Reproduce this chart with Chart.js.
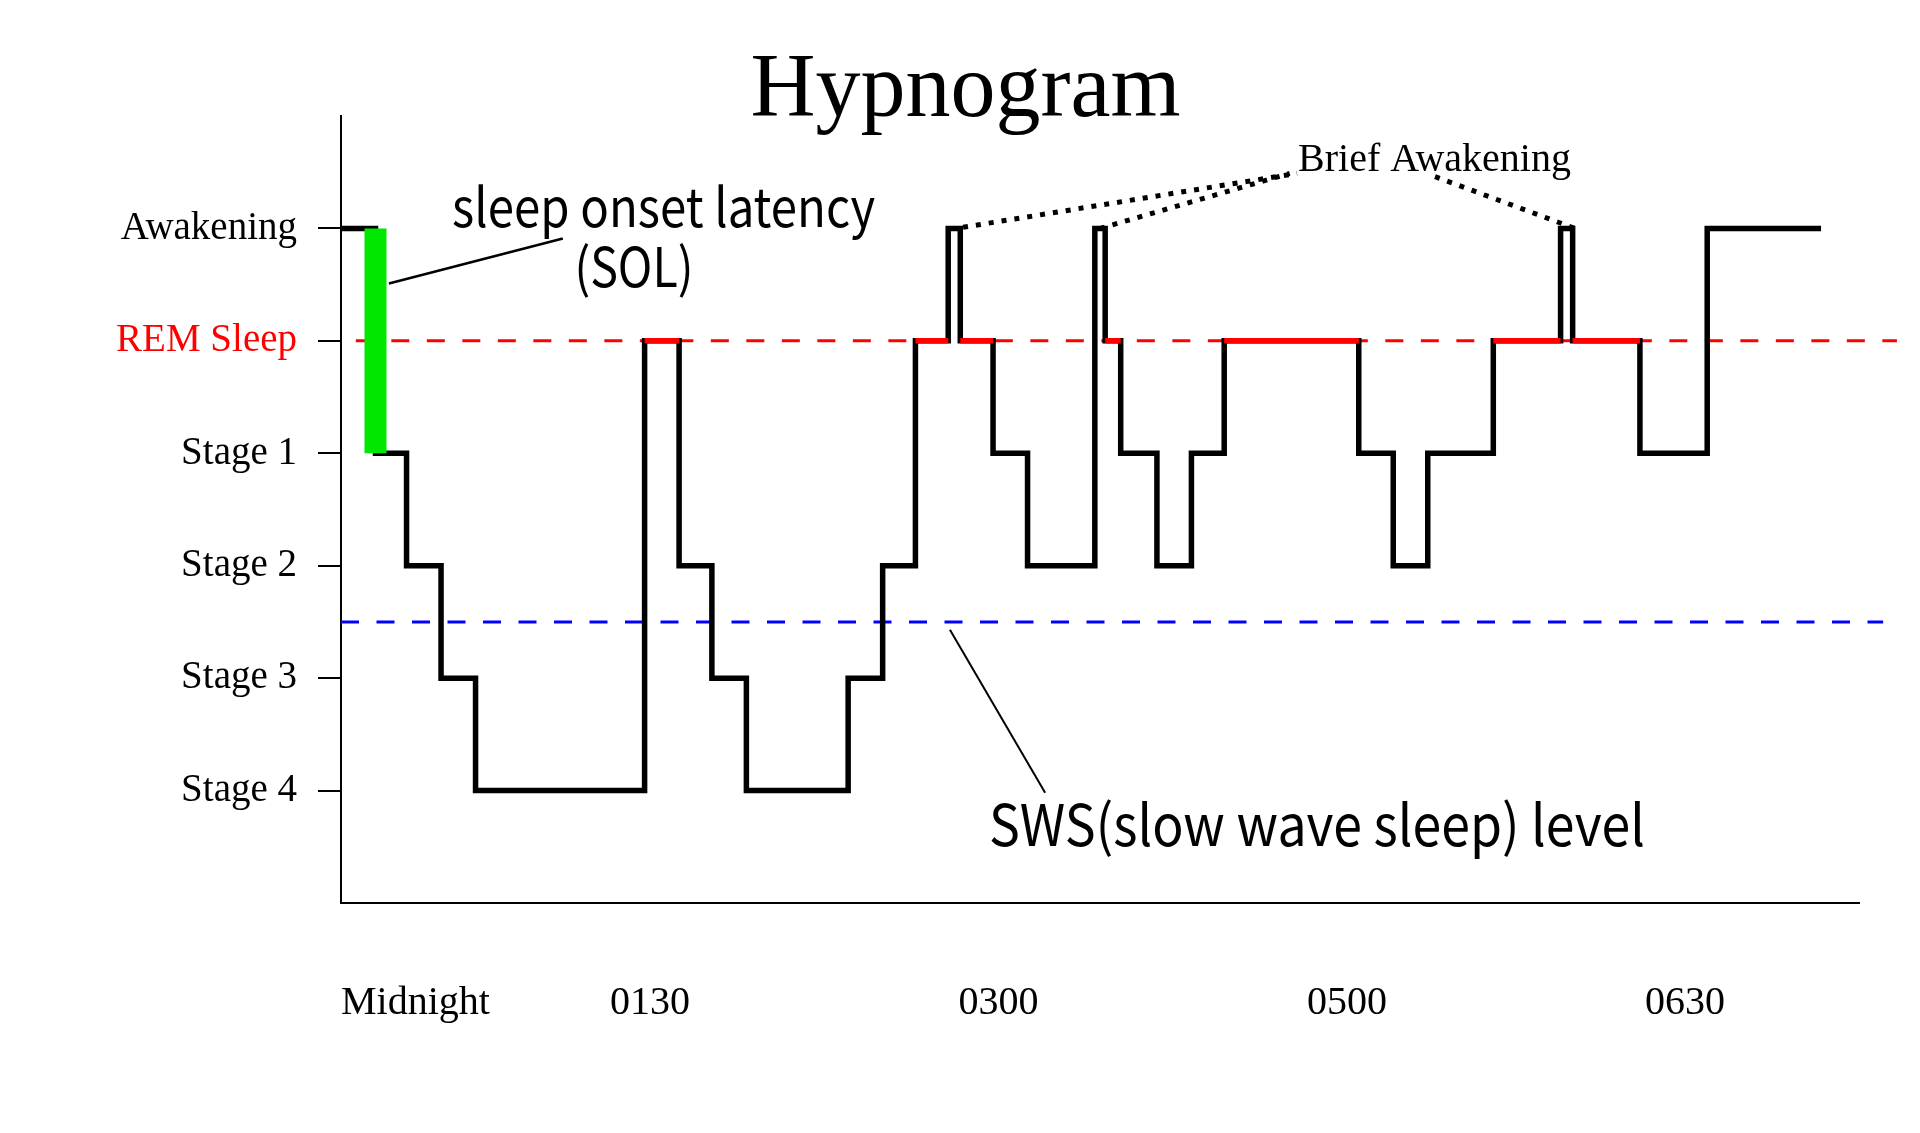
<!DOCTYPE html>
<html lang="en">
<head>
    <meta charset="UTF-8">
    <title>Hypnogram</title>
    <style>
        body {
            margin: 0;
            padding: 0;
            background-color: #ffffff;
        }
        #wrap {
            width: 1920px;
            height: 1133px;
        }
    </style>
</head>
<body>
    <div id="wrap">
        <canvas id="myChart" width="1920" height="1133"></canvas>
    </div>
    <script src="https://cdn.jsdelivr.net/npm/chart.js"></script>
    <script>
        // minutes after midnight where each stage starts (last value = end of recording)
        const stageTimes = [0, 10, 19, 29, 39, 88, 98, 107.5, 117.5, 147, 157, 166.5, 176, 179.5, 189, 199,
            218.5, 221.5, 226, 236.5, 246.5, 256, 295, 305, 315, 334, 353.5, 357, 376.5, 396, 429];
        // 6 = awake, 5 = REM, 4..1 = stage 1..4
        const stages = [6, 4, 3, 2, 1, 5, 3, 2, 1, 2, 3, 5, 6, 5, 4, 3,
            6, 5, 4, 3, 4, 5, 4, 3, 4, 5, 6, 5, 4, 6];

        const stageValues = [6, 5, 4, 3, 2, 1];
        const stageLabels = ['Awakening', 'REM Sleep', 'Stage 1', 'Stage 2', 'Stage 3', 'Stage 4'];

        const timeTicks = [0, 78, 179, 280, 378];
        const timeLabels = ['Midnight', '0130', '0300', '0500', '0630'];

        const remLevel = 5;
        const swsLevel = 2.5;
        const sleepOnset = 10;
        const onsetFrom = 6;
        const onsetTo = 4;

        const hypno = stageTimes.map((t, i) => ({ x: t, y: stages[Math.min(i, stages.length - 1)] }));

        const remParts = [];
        stages.forEach((s, i) => {
            if (s === remLevel) {
                remParts.push({ x: stageTimes[i], y: remLevel });
                remParts.push({ x: stageTimes[i + 1], y: remLevel });
                remParts.push({ x: stageTimes[i + 1], y: null });
            }
        });

        const serif = '"Liberation Serif", "Times New Roman", serif';
        const sans = '"Noto Sans CJK SC", "Noto Sans", sans-serif';

        const notes = {
            id: 'notes',
            afterDatasetsDraw(chart) {
                const ctx = chart.ctx;
                const px = v => chart.scales.x.getPixelForValue(v);
                const py = v => chart.scales.y.getPixelForValue(v);
                ctx.save();
                ctx.fillStyle = '#000';
                ctx.textBaseline = 'alphabetic';

                ctx.font = '90px ' + serif;
                ctx.textAlign = 'center';
                ctx.fillText('Hypnogram', px(181), py(7));

                // the annotation font in the picture is narrow, squeeze to its width
                ctx.font = '54px ' + sans;
                ctx.textAlign = 'left';
                ctx.fillText('sleep onset latency', px(32.2), py(6.01), 423);
                ctx.textAlign = 'center';
                ctx.fillText('(SOL)', px(84.9), py(5.48), 119);

                ctx.font = '40px ' + serif;
                ctx.textAlign = 'left';
                ctx.fillText('Brief Awakening', px(277.4), py(6.51));

                ctx.font = '57px ' + sans;
                ctx.fillText('SWS(slow wave sleep) level', px(187.8), py(0.507), 656);

                ctx.strokeStyle = '#000';
                ctx.lineWidth = 2.5;
                ctx.beginPath();
                ctx.moveTo(px(13.9), py(5.51));
                ctx.lineTo(px(64.3), py(5.91));
                ctx.stroke();

                ctx.lineWidth = 2;
                ctx.beginPath();
                ctx.moveTo(px(176.5), py(2.43));
                ctx.lineTo(px(204.1), py(0.98));
                ctx.stroke();

                ctx.lineWidth = 5;
                ctx.setLineDash([5, 8]);
                [[180.3, 6.01, 277.1, 6.49], [220, 6.0, 275, 6.49], [317.1, 6.46, 357.7, 6.0]].forEach(l => {
                    ctx.beginPath();
                    ctx.moveTo(px(l[0]), py(l[1]));
                    ctx.lineTo(px(l[2]), py(l[3]));
                    ctx.stroke();
                });
                ctx.restore();
            }
        };

        const ctx = document.getElementById('myChart').getContext('2d');
        window.myChart = new Chart(ctx, {
            type: 'line',
            data: {
                datasets: [
                    {
                        label: 'SOL',
                        data: [{ x: sleepOnset, y: onsetFrom }, { x: sleepOnset, y: onsetTo }],
                        borderColor: 'rgb(0, 232, 0)',
                        borderWidth: 22,
                        borderCapStyle: 'butt',
                        order: 0
                    },
                    {
                        label: 'REM',
                        data: remParts,
                        borderColor: '#ff0000',
                        borderWidth: 5.5,
                        borderCapStyle: 'butt',
                        spanGaps: false,
                        order: 1
                    },
                    {
                        label: 'Hypnogram',
                        data: hypno,
                        stepped: true,
                        borderColor: '#000000',
                        borderWidth: 5.5,
                        borderJoinStyle: 'miter',
                        borderCapStyle: 'butt',
                        order: 2
                    },
                    {
                        label: 'REM level',
                        data: [{ x: 4.3, y: remLevel }, { x: 451, y: remLevel }],
                        borderColor: '#ff0000',
                        borderWidth: 3,
                        borderDash: [18, 17.5],
                        borderCapStyle: 'butt',
                        clip: false,
                        order: 3
                    },
                    {
                        label: 'SWS level',
                        data: [{ x: 0, y: swsLevel }, { x: 447, y: swsLevel }],
                        borderColor: '#0000ff',
                        borderWidth: 3,
                        borderDash: [18, 17.5],
                        borderCapStyle: 'butt',
                        clip: false,
                        order: 3
                    }
                ]
            },
            options: {
                responsive: false,
                animation: false,
                devicePixelRatio: 1,
                layout: { padding: { top: 116, right: 61, left: 0, bottom: 0 } },
                elements: { point: { radius: 0 }, line: { tension: 0 } },
                plugins: {
                    legend: { display: false },
                    tooltip: { enabled: false },
                    title: { display: false }
                },
                scales: {
                    x: {
                        type: 'linear',
                        min: 0,
                        max: 440,
                        afterFit: s => { s.height = 230; },
                        afterBuildTicks: s => { s.ticks = timeTicks.map(v => ({ value: v })); },
                        grid: { display: false, drawTicks: false },
                        border: { display: true, color: '#000', width: 2 },
                        ticks: {
                            align: 'start',
                            padding: 76,
                            color: '#000',
                            font: { family: serif, size: 40 },
                            maxRotation: 0,
                            autoSkip: false,
                            callback: v => timeLabels[timeTicks.indexOf(v)]
                        }
                    },
                    y: {
                        min: 0,
                        max: 7,
                        afterFit: s => { s.width = 341; },
                        afterBuildTicks: s => { s.ticks = stageValues.map(v => ({ value: v })); },
                        grid: {
                            drawOnChartArea: false,
                            drawTicks: true,
                            tickLength: 23,
                            color: '#000',
                            lineWidth: 2
                        },
                        border: { display: true, color: '#000', width: 2 },
                        ticks: {
                            padding: 21,
                            autoSkip: false,
                            font: { family: serif, size: 39 },
                            color: c => (c.tick && c.tick.value === remLevel) ? '#ff0000' : '#000',
                            callback: v => stageLabels[stageValues.indexOf(v)]
                        }
                    }
                }
            },
            plugins: [notes]
        });
    </script>
</body>
</html>
